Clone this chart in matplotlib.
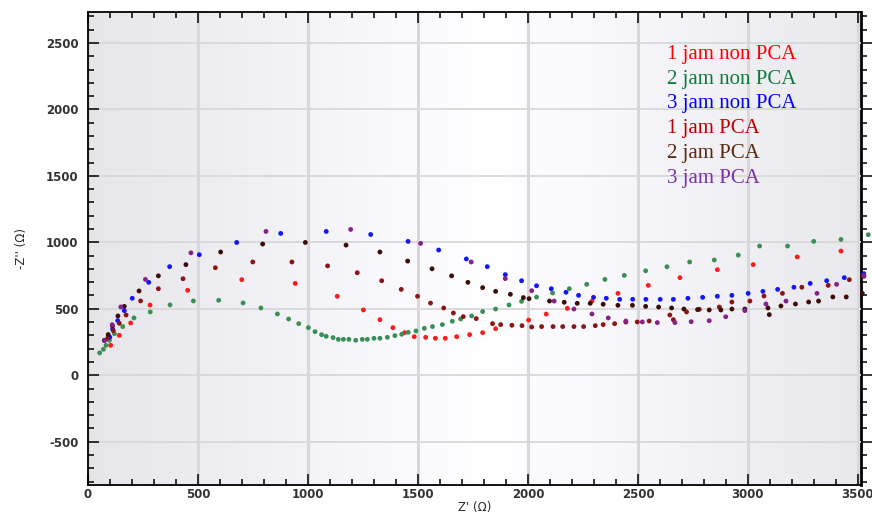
import numpy as np
import matplotlib
matplotlib.use("Agg")
import matplotlib.pyplot as plt
from matplotlib.ticker import MultipleLocator

plt.rcParams["axes.unicode_minus"] = False

# Nyquist data (Z' in ohm, -Z'' in ohm)
labels = ["1 jam non PCA", "2 jam non PCA", "3 jam non PCA", "1 jam PCA", "2 jam PCA", "3 jam PCA"]

x_1non = [103, 142, 194, 282, 453, 699, 942, 1133, 1252, 1327, 1386, 1439, 1483, 1535, 1579, 1624, 1676, 1735,
          1794, 1853, 2003, 2083, 2179, 2291, 2409, 2547, 2691, 2861, 3024, 3224, 3423]
y_1non = [225, 300, 393, 528, 639, 719, 691, 594, 491, 418, 358, 320, 290, 285, 278, 278, 290, 305,
          320, 350, 415, 460, 503, 558, 616, 676, 734, 794, 832, 890, 934]

x_2non = [53, 70, 82, 97, 120, 158, 209, 283, 373, 479, 594, 705, 786, 861, 912, 958, 1002, 1032, 1062, 1083,
          1114, 1138, 1161, 1186, 1217, 1247, 1270, 1300, 1327, 1361, 1395, 1426, 1456, 1491, 1529, 1566, 1611,
          1656, 1694, 1744, 1794, 1853, 1914, 1971, 2039, 2112, 2188, 2267, 2350, 2438, 2535, 2632, 2735, 2847,
          2956, 3053, 3180, 3299, 3423, 3547]
y_2non = [168, 195, 225, 263, 313, 366, 431, 476, 529, 559, 564, 544, 506, 461, 423, 388, 358, 328, 305, 293,
          283, 270, 270, 270, 263, 270, 270, 278, 278, 285, 298, 308, 323, 333, 353, 366, 381,
          406, 423, 446, 479, 498, 529, 556, 588, 619, 651, 684, 721, 751, 786, 816, 852, 867,
          904, 972, 972, 1007, 1022, 1057]

x_3non = [99, 112, 135, 165, 201, 276, 371, 506, 676, 876, 1083, 1285, 1455, 1594, 1720, 1815, 1897, 1971, 2039,
          2106, 2173, 2230, 2298, 2356, 2417, 2476, 2536, 2601, 2661, 2727, 2794, 2861, 2927, 3001, 3068, 3135,
          3209, 3283, 3358, 3438, 3527]
y_3non = [286, 346, 411, 486, 579, 699, 817, 907, 999, 1067, 1082, 1059, 1007, 942, 875, 817, 757, 711, 673,
          651, 624, 601, 586, 579, 571, 571, 571, 571, 571, 579, 586, 594, 601, 616, 631, 646,
          662, 691, 711, 734, 764]

x_1pca = [90, 115, 142, 173, 239, 320, 432, 579, 749, 927, 1089, 1224, 1335, 1424, 1498, 1557, 1617, 1661, 1706,
          1765, 1839, 1876, 1927, 1973, 2017, 2062, 2114, 2158, 2209, 2253, 2306, 2342, 2394, 2445, 2497, 2551,
          2645, 2661, 2721, 2779, 2870, 2927, 3009, 3073, 3157, 3245, 3365, 3461, 3527]
y_1pca = [280, 335, 391, 453, 559, 651, 726, 809, 852, 852, 823, 771, 711, 646, 594, 543, 506, 468, 441,
          426, 388, 381, 376, 373, 363, 366, 366, 366, 366, 366, 373, 381, 388, 400, 401, 408,
          453, 418, 476, 496, 513, 551, 558, 596, 616, 662, 676, 719, 744]

x_2pca = [74, 92, 111, 136, 165, 232, 320, 445, 603, 794, 988, 1173, 1327, 1453, 1564, 1653, 1727, 1794, 1853,
          1920, 1979, 2005, 2098, 2165, 2224, 2283, 2342, 2409, 2475, 2535, 2594, 2653, 2709, 2771, 2824, 2877,
          2927, 2986, 3091, 3097, 3150, 3216, 3276, 3321, 3386, 3447, 3520]
y_2pca = [263, 306, 371, 446, 518, 634, 748, 832, 927, 987, 999, 979, 927, 859, 801, 748, 699, 659, 631,
          609, 584, 576, 558, 549, 541, 541, 534, 526, 526, 518, 513, 506, 498, 494, 491, 491,
          498, 498, 506, 456, 521, 536, 551, 558, 589, 589, 616]

x_3pca = [75, 110, 149, 261, 468, 809, 1194, 1512, 1742, 1897, 2017, 2119, 2209, 2291, 2365, 2445, 2520, 2588,
          2668, 2742, 2824, 2899, 2986, 3082, 3173, 3314, 3403, 3527]
y_3pca = [260, 380, 514, 721, 921, 1082, 1097, 992, 852, 727, 636, 558, 498, 461, 431, 408, 401, 396,
          396, 403, 410, 440, 486, 536, 558, 616, 684, 749]

series_x = [x_1non, x_2non, x_3non, x_1pca, x_2pca, x_3pca]
series_y = [y_1non, y_2non, y_3non, y_1pca, y_2pca, y_3pca]
dot_colors = ["#ff1a1a", "#3a8f55", "#1414ff", "#8b1515", "#3d0d08", "#86208a"]
text_colors = ["#ff0000", "#0e7a3a", "#0000ff", "#c00000", "#5a2a10", "#7a30a8"]

fig = plt.figure(figsize=(8.72, 5.13), dpi=100)
ax = fig.add_axes([88 / 872, 28 / 513, 773 / 872, 473 / 513])

# grey -> white -> grey background
g = np.concatenate([np.linspace(0.9, 1.0, 130), np.linspace(1.0, 0.91, 120)])
bg = np.dstack([g, g, np.minimum(g + 0.018, 1.0)])
ax.imshow(bg, extent=(0, 1, 0, 1), transform=ax.transAxes, aspect="auto", zorder=0,
          interpolation="bilinear")

handles = []
for xs, ys, c, lab in zip(series_x, series_y, dot_colors, labels):
    h = ax.scatter(xs, ys, s=12, color=c, edgecolors="none", zorder=3, clip_on=False, label=lab)
    handles.append(h)

ax.set_xlim(0, 3514)
ax.set_ylim(-826, 2733)

ax.xaxis.set_major_locator(MultipleLocator(500))
ax.xaxis.set_minor_locator(MultipleLocator(100))
ax.yaxis.set_major_locator(MultipleLocator(500))
ax.yaxis.set_minor_locator(MultipleLocator(100))
ax.set_yticks([-500, 0, 500, 1000, 1500, 2000, 2500])

ax.grid(True, axis="x", which="major", color="#d8d8d8", linewidth=2.2, zorder=1)
ax.grid(True, axis="y", which="major", color="#d8d8d8", linewidth=1.3, zorder=1)
ax.set_axisbelow(True)

ax.tick_params(which="both", direction="in", top=True, bottom=True, left=True, right=False,
               labelsize=8.5, labelcolor="#333333", width=1.1, color="black")
ax.tick_params(which="major", length=8)
ax.tick_params(which="minor", length=4)
ax.tick_params(axis="x", pad=2)
ax.tick_params(axis="y", pad=7)
for lbl in ax.get_xticklabels() + ax.get_yticklabels():
    lbl.set_fontweight("bold")

for s in ["left", "bottom", "top"]:
    ax.spines[s].set_linewidth(1.3)
ax.spines["right"].set_visible(False)

sec = ax.secondary_yaxis("right")
sec.yaxis.set_major_locator(MultipleLocator(500))
sec.yaxis.set_minor_locator(MultipleLocator(100))
sec.tick_params(which="both", direction="out", labelright=False, width=1.1)
sec.tick_params(which="major", length=8)
sec.tick_params(which="minor", length=4)
sec.spines["right"].set_linewidth(2)

ax.set_xlabel("Z' (\u03a9)", fontsize=8.5, color="#2a2a2a", labelpad=0)
ax.set_ylabel("-Z'' (\u03a9)", fontsize=8.5, color="#2a2a2a", labelpad=13)

leg = ax.legend(handles=handles, loc="upper left", bbox_to_anchor=(0.749, 0.932), frameon=False,
                handlelength=0, handletextpad=0, borderpad=0, borderaxespad=0, labelspacing=0.25,
                prop={"family": "Liberation Serif", "size": 15})
for h in leg.legend_handles:
    h.set_visible(False)
for t, c in zip(leg.get_texts(), text_colors):
    t.set_color(c)

fig.savefig("out.png", dpi=100)
